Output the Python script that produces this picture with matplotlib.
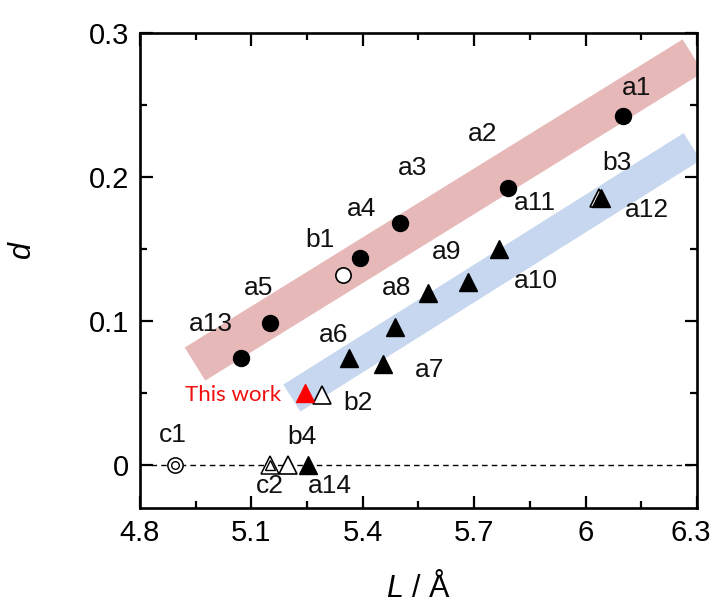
import matplotlib
matplotlib.use("Agg")
import matplotlib.pyplot as plt
from matplotlib.ticker import MultipleLocator
from matplotlib.transforms import ScaledTranslation

plt.rcParams['font.family'] = ['Liberation Sans', 'DejaVu Sans']
plt.rcParams['mathtext.fontset'] = 'custom'
plt.rcParams['mathtext.it'] = 'Liberation Sans:italic'
plt.rcParams['mathtext.rm'] = 'Liberation Sans'

# ---- data (L in Å, d) ----
filled_circle_L = [6.101, 5.791, 5.500, 5.392, 5.150, 5.072]
filled_circle_d = [0.2426, 0.192, 0.1677, 0.1435, 0.0985, 0.0742]
open_circle_L = [5.347]
open_circle_d = [0.1317]
filled_tri_L = [5.363, 5.454, 5.487, 5.576, 5.683, 5.767, 5.252]
filled_tri_d = [0.0742, 0.070, 0.0956, 0.1192, 0.1268, 0.1497, 0.0]
open_tri_L = [5.290, 5.199]
open_tri_d = [0.0485, 0.0]
b3_L, b3_d = [6.036], [0.1857]
a12_L, a12_d = [6.042], [0.1857]
this_work_L, this_work_d = [5.244], [0.050]
c1_L, c1_d = [4.894], [0.0]
c2_L, c2_d = [5.150], [0.0]

# guide bands (start/end of centre line, data coords)
red_band_L = [4.948, 6.289]
red_band_d = [0.0700, 0.2841]
blue_band_L = [5.209, 6.287]
blue_band_d = [0.0464, 0.2211]

labels = ['a1', 'a2', 'a3', 'a4', 'b1', 'a5', 'a13', 'a6', 'a7', 'a8', 'a9',
          'a10', 'a11', 'b3', 'a12', 'b2', 'c1', 'b4', 'c2', 'a14']
label_L = [6.138, 5.724, 5.535, 5.398, 5.285, 5.118, 4.991, 5.322, 5.581, 5.492,
           5.627, 5.866, 5.864, 6.085, 6.165, 5.387, 4.889, 5.236, 5.150, 5.312]
label_d = [0.262, 0.230, 0.206, 0.178, 0.156, 0.123, 0.098, 0.090, 0.066, 0.123,
           0.148, 0.128, 0.182, 0.210, 0.177, 0.043, 0.021, 0.019, -0.015, -0.015]
this_work_label = 'This work'
this_work_label_pos = (5.050, 0.0485)

xticks = [4.8, 5.1, 5.4, 5.7, 6.0, 6.3]
xticklabels = ['4.8', '5.1', '5.4', '5.7', '6', '6.3']
yticks = [0.0, 0.1, 0.2, 0.3]
yticklabels = ['0', '0.1', '0.2', '0.3']

fig = plt.figure(figsize=(7.13, 6.06), dpi=100)
ax = fig.add_axes([140/713, 1-508/606, 557/713, 475/606])

ax.set_xlim(4.8, 6.3)
ax.set_ylim(-0.03, 0.3)

# bands
ax.plot(red_band_L, red_band_d, color='#E6B9B8', lw=28, solid_capstyle='butt', zorder=1)
ax.plot(blue_band_L, blue_band_d, color='#C6D7EF', lw=23, solid_capstyle='butt', zorder=1)

# zero line
ax.axhline(0, xmin=0.02, xmax=1, color='black', lw=1.0, ls=(0, (4, 3)), zorder=2)

mk = dict(linestyle='none', zorder=3)
ax.plot(filled_circle_L, filled_circle_d, marker='o', ms=11.5, mfc='black', mec='black', **mk)
ax.plot(open_circle_L, open_circle_d, marker='o', ms=11, mfc='white', mec='black', mew=1.2, **mk)
ax.plot(filled_tri_L, filled_tri_d, marker='^', ms=13, mfc='black', mec='black', **mk)
ax.plot(open_tri_L, open_tri_d, marker='^', ms=13, mfc='white', mec='black', mew=1.2, **mk)
ax.plot(b3_L, b3_d, marker='^', ms=13, mfc='white', mec='black', mew=1.2, **mk)
ax.plot(a12_L, a12_d, marker='^', ms=12.5, mfc='black', mec='black', **mk)
ax.plot(this_work_L, this_work_d, marker='^', ms=13, mfc='#FF0000', mec='#FF0000', **mk)
ax.plot(c1_L, c1_d, marker='o', ms=11, mfc='white', mec='black', mew=1.1, **mk)
ax.plot(c1_L, c1_d, marker='o', ms=5.5, mfc='white', mec='black', mew=1.0, zorder=4, linestyle='none')
ax.plot(c2_L, c2_d, marker='^', ms=13, mfc='white', mec='black', mew=1.1, **mk)
ax.plot(c2_L, c2_d, marker='^', ms=6.5, mfc='white', mec='black', mew=1.0, zorder=4, linestyle='none')

for t, x, y in zip(labels, label_L, label_d):
    ax.text(x, y, t, fontsize=19, ha='center', va='center', color='#111111', zorder=5)
ax.text(this_work_label_pos[0], this_work_label_pos[1], this_work_label, fontsize=16,
        family=['Lato', 'DejaVu Sans'], color='#F01010', ha='center', va='center', zorder=5)

ax.set_xticks(xticks)
ax.set_xticklabels(xticklabels)
ax.set_yticks(yticks)
ax.set_yticklabels(yticklabels)
ax.xaxis.set_minor_locator(MultipleLocator(0.15))
ax.yaxis.set_minor_locator(MultipleLocator(0.05))
ax.tick_params(which='both', direction='in', top=True, right=True, width=1.6, labelsize=21, colors='black')
ax.tick_params(which='major', length=9, pad=8)
ax.tick_params(which='minor', length=5)
for s in ax.spines.values():
    s.set_linewidth(1.9)

# keep the last x tick label inside the canvas
last = ax.get_xticklabels()[-1]
last.set_transform(last.get_transform() + ScaledTranslation(-6/100, 0, fig.dpi_scale_trans))

ax.set_xlabel('$L$ / Å', fontsize=22)
ax.set_ylabel('$d$', fontsize=22)
ax.xaxis.set_label_coords(0.5, (508 - 588) / 475)
ax.yaxis.set_label_coords((23 - 140) / 557, (508 - 250) / 475)
ax.xaxis.label.set_va('center')
ax.yaxis.label.set_va('center')
ax.yaxis.label.set_ha('center')

fig.savefig('out.png', dpi=100)
